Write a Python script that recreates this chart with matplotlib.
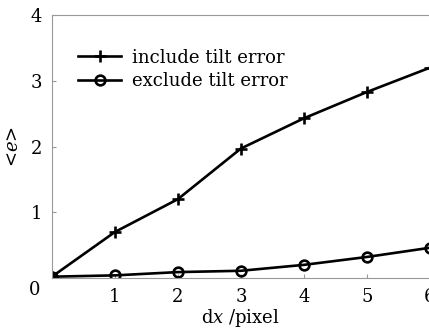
import numpy as np
import matplotlib.pyplot as plt

plt.rcParams['font.family'] = 'DejaVu Serif'
plt.rcParams['mathtext.fontset'] = 'dejavuserif'

# --- data ---
dx = [0, 1, 2, 3, 4, 5, 6]
include_tilt = [0.02, 0.70, 1.20, 1.97, 2.43, 2.83, 3.20]
exclude_tilt = [0.02, 0.04, 0.09, 0.11, 0.20, 0.32, 0.46]
xticks = [1, 2, 3, 4, 5, 6]
yticks = [1, 2, 3, 4]

fig = plt.figure(figsize=(4.29, 3.29), dpi=100)
ax = fig.add_axes([0.121, 0.155, 0.881, 0.799])

ax.plot(dx, include_tilt, color='black', lw=1.9, marker='+', ms=8, mew=1.9,
        label='include tilt error')
ax.plot(dx, exclude_tilt, color='black', lw=1.9, marker='o', ms=7, mew=1.9,
        fillstyle='none', label='exclude tilt error')

ax.set_xlim(0, 6)
ax.set_ylim(0, 4)
ax.set_xticks(xticks)
ax.set_yticks(yticks)
ax.tick_params(direction='in', length=3, color='#999999', labelsize=13, pad=7)

for side in ['left', 'bottom', 'top']:
    ax.spines[side].set_color('#999999')
ax.spines['right'].set_visible(False)

ax.text(-0.045, -0.045, '0', transform=ax.transAxes, ha='center', va='center', fontsize=13)

ax.set_xlabel(r'd$x$ /pixel', fontsize=13, labelpad=1)
ax.set_ylabel(r'<$e$>', fontsize=13, labelpad=6)

ax.legend(loc='upper left', bbox_to_anchor=(0.05, 0.9), frameon=False, fontsize=13,
          handlelength=2.4, handletextpad=0.6, labelspacing=0.3, borderaxespad=0)

fig.savefig('out.png', dpi=100)
